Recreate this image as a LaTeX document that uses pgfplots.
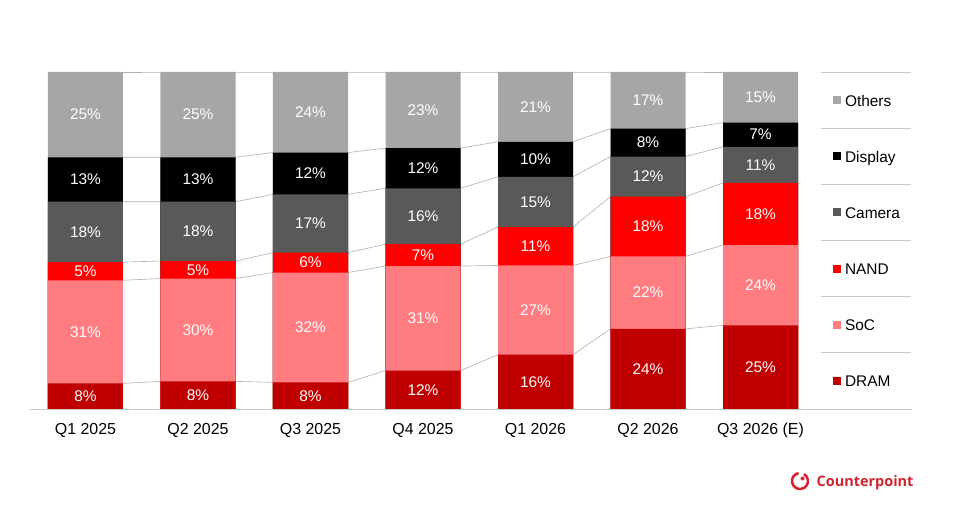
\documentclass[border=0pt]{standalone}
\usepackage{fontspec}
\setmainfont{Liberation Sans}
\newfontfamily\logofont{Open Sans}
\usepackage{pgfplots}
\pgfplotsset{compat=1.18}
\usepackage{pgfplotstable}

\definecolor{cOthers}{HTML}{A6A6A6}
\definecolor{cDisplay}{HTML}{000000}
\definecolor{cCamera}{HTML}{595959}
\definecolor{cNAND}{HTML}{FF0000}
\definecolor{cSoC}{HTML}{FF7C80}
\definecolor{cDRAM}{HTML}{C00000}
\definecolor{cLogo}{HTML}{D2232E}
\definecolor{cSep}{HTML}{C8C8C8}
\definecolor{cConn}{HTML}{B0B0B0}

% cumulative tops of each segment (bars painted from the top series down)
\pgfplotstableread{
x o p c n s d
0 100 74.7 61.5 43.6 38.2 7.6
1 100 74.7 61.5 43.9 38.7 8.2
2 100 76.1 63.7 46.4 40.5 7.9
3 100 77.4 65.5 48.9 42.4 11.4
4 100 79.3 68.9 54.0 42.6 16.1
5 100 83.2 74.9 63.0 45.3 23.8
6 100 85.0 77.8 67.1 48.6 24.8
}\tops

% connector lines between neighbouring bars (bar edges at +-0.3333)
\pgfplotstableread{
x o p c n s d
0.3333 100 74.7 61.5 43.6 38.2 7.6
0.6667 100 74.7 61.5 43.9 38.7 8.2
1.3333 100 74.7 61.5 43.9 38.7 8.2
1.6667 100 76.1 63.7 46.4 40.5 7.9
2.3333 100 76.1 63.7 46.4 40.5 7.9
2.6667 100 77.4 65.5 48.9 42.4 11.4
3.3333 100 77.4 65.5 48.9 42.4 11.4
3.6667 100 79.3 68.9 54.0 42.6 16.1
4.3333 100 79.3 68.9 54.0 42.6 16.1
4.6667 100 83.2 74.9 63.0 45.3 23.8
5.3333 100 83.2 74.9 63.0 45.3 23.8
5.6667 100 85.0 77.8 67.1 48.6 24.8
}\conn

% segment labels: x, middle of segment, share
\pgfplotstableread{
x y l
0 3.8 8
0 22.9 31
0 40.9 5
0 52.55 18
0 68.1 13
0 87.35 25
1 4.1 8
1 23.45 30
1 41.3 5
1 52.7 18
1 68.1 13
1 87.35 25
2 3.95 8
2 24.2 32
2 43.45 6
2 55.05 17
2 69.9 12
2 88.05 24
3 5.7 12
3 26.9 31
3 45.65 7
3 57.2 16
3 71.45 12
3 88.7 23
4 8.05 16
4 29.35 27
4 48.3 11
4 61.45 15
4 74.1 10
4 89.65 21
5 11.9 24
5 34.55 22
5 54.15 18
5 68.95 12
5 79.05 8
5 91.6 17
6 12.4 25
6 36.7 24
6 57.85 18
6 72.45 11
6 81.4 7
6 92.5 15
}\labs

\pgfplotsset{
  segbar/.style={ybar, bar width=0.6667, bar shift=0pt, draw=none, fill=#1,
    legend image code/.code={\fill[#1] (0bp,-3bp) rectangle (8bp,5bp);}},
  connline/.style={forget plot, cConn, line width=0.6bp, mark=none},
}

\begin{document}
\begin{tikzpicture}
\useasboundingbox (0,0) rectangle (960bp,515bp);
\begin{axis}[
  at={(30bp,106bp)}, anchor=south west,
  scale only axis, width=780bp, height=337bp,
  xmin=-0.4933, xmax=6.44, ymin=0, ymax=100,
  axis line style={draw=none},
  ytick=\empty,
  xtick={0,1,2,3,4,5,6},
  xticklabels={Q1 2025,Q2 2025,Q3 2025,Q4 2025,Q1 2026,Q2 2026,Q3 2026 (E)},
  major tick length=0pt,
  xticklabel style={anchor=north, inner sep=0pt, text height=11.5bp, text depth=0pt,
    yshift=-13.5bp, font=\fontsize{16}{19}\selectfont},
  clip=false,
  legend cell align=left,
  legend style={at={(axis description cs:1.0295,0.9288)}, anchor=north west,
    draw=none, fill=none, inner sep=0pt, outer sep=0pt,
    font=\fontsize{15.5}{18}\selectfont,
    nodes={inner sep=0pt, text height=10.5bp, text depth=0pt},
    row sep=45.6bp,
    /tikz/every odd column/.append style={column sep=4bp}},
]
% connectors
\addplot[connline] table[x=x,y=o] {\conn};
\addplot[connline] table[x=x,y=p] {\conn};
\addplot[connline] table[x=x,y=c] {\conn};
\addplot[connline] table[x=x,y=n] {\conn};
\addplot[connline] table[x=x,y=s] {\conn};
\addplot[connline] table[x=x,y=d] {\conn};
% bars
\addplot[segbar=cOthers] table[x=x,y=o] {\tops};
\addlegendentry{Others}
\addplot[segbar=cDisplay] table[x=x,y=p] {\tops};
\addlegendentry{Display}
\addplot[segbar=cCamera] table[x=x,y=c] {\tops};
\addlegendentry{Camera}
\addplot[segbar=cNAND] table[x=x,y=n] {\tops};
\addlegendentry{NAND}
\addplot[segbar=cSoC] table[x=x,y=s] {\tops};
\addlegendentry{SoC}
\addplot[segbar=cDRAM] table[x=x,y=d] {\tops};
\addlegendentry{DRAM}
% labels
\addplot[forget plot, only marks, mark=*, mark size=0pt, mark options={draw=none,fill=none},
  point meta=explicit symbolic,
  nodes near coords={\pgfplotspointmeta\%},
  nodes near coords style={anchor=center, text=white, inner sep=0pt,
    font=\fontsize{15.5}{18}\selectfont}]
  table[x=x,y=y,meta=l] {\labs};
\end{axis}
% axis base line and legend separators
\draw[cSep, line width=0.8bp] (30bp,106bp) -- (912bp,106bp);
\foreach \yy in {443,387,331,275,219,163}
  \draw[cSep, line width=0.8bp] (821bp,\yy bp) -- (911bp,\yy bp);
% logo
\draw[cLogo, line width=2.6bp] (800bp,34bp) ++(100:8bp) arc[start angle=100, end angle=420, radius=8bp];
\fill[cLogo] (802.5bp,36.5bp) circle[radius=2bp];
\node[anchor=base west, inner sep=0pt, text=cLogo, font=\logofont\bfseries\fontsize{14.5}{17}\selectfont] at (816.5bp,29bp) {Counterpoint};
\end{tikzpicture}
\end{document}
